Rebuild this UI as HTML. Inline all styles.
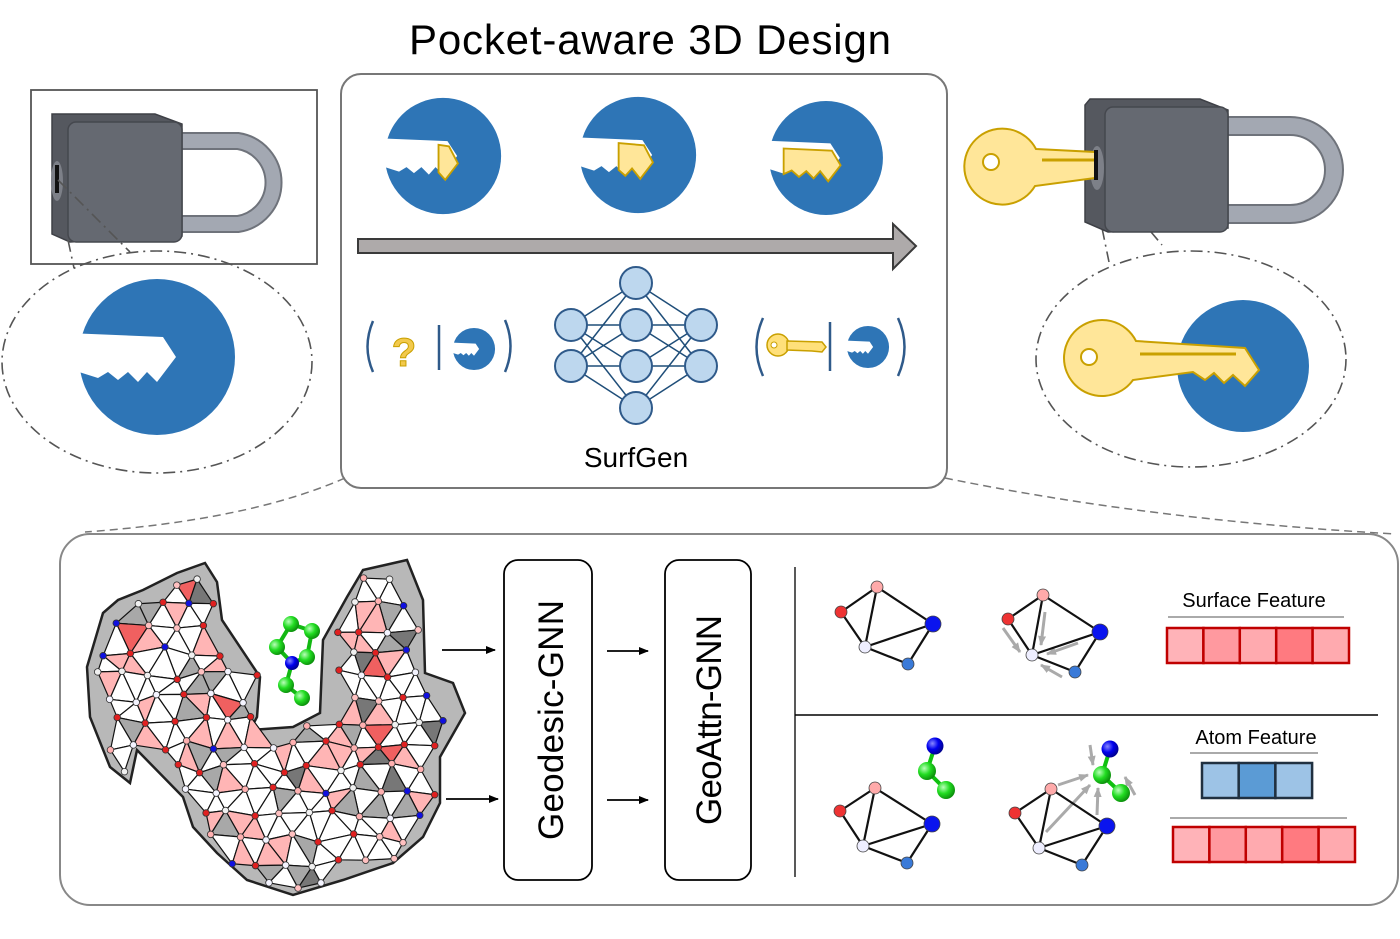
<!DOCTYPE html>
<html><head><meta charset="utf-8"><style>
html,body{margin:0;padding:0;background:#fff;}
svg{display:block;font-family:"Liberation Sans",sans-serif;}
</style></head><body>
<svg id="s" width="1400" height="939" viewBox="0 0 1400 939" xmlns="http://www.w3.org/2000/svg">
<defs>
 <g id="pocket">
  <circle cx="0" cy="0" r="78" fill="#2e75b6"/>
  <polygon points="-90,-24 6,-20 19,0 0,25 -10,15 -19,25 -29,15 -39,23 -49,15 -59,21 -78,15 -90,15" fill="#fff"/>
 </g>
 <radialGradient id="gb" cx="0.35" cy="0.35" r="0.7"><stop offset="0" stop-color="#b9ffb9"/><stop offset="0.5" stop-color="#22dd22"/><stop offset="1" stop-color="#0a8a0a"/></radialGradient>
 <radialGradient id="bb" cx="0.35" cy="0.35" r="0.7"><stop offset="0" stop-color="#8888ff"/><stop offset="0.5" stop-color="#0000ee"/><stop offset="1" stop-color="#000088"/></radialGradient>
 <marker id="ah" markerWidth="10" markerHeight="8" refX="9" refY="4" orient="auto" markerUnits="userSpaceOnUse"><path d="M0,0 L10,4 L0,8 z" fill="#000"/></marker>
 <marker id="ga" markerWidth="10" markerHeight="8" refX="9" refY="4" orient="auto" markerUnits="userSpaceOnUse"><path d="M0,0 L10,4 L0,8 z" fill="#aaa"/></marker>
</defs>

<text x="650" y="54" font-size="42" text-anchor="middle" textLength="482" fill="#000">Pocket-aware 3D Design</text>

<rect x="341" y="74" width="606" height="414" rx="20" fill="#fff" stroke="#777" stroke-width="2"/>

<path d="M345,478 Q250,520 85,532" fill="none" stroke="#777" stroke-width="1.5" stroke-dasharray="8 5"/>
<path d="M945,478 Q1150,520 1395,534" fill="none" stroke="#777" stroke-width="1.5" stroke-dasharray="8 5"/>

<g transform="translate(443,156) scale(0.745)"><use href="#pocket"/>
 <polygon points="-6,-15 8,-13 20,10 3,32 -6,22" fill="#ffe699" stroke="#c9a000" stroke-width="2.5"/></g>
<g transform="translate(638,155) scale(0.745)"><use href="#pocket"/>
 <polygon points="-26,-16 8,-13 20,10 3,32 -8,18 -17,28 -26,20" fill="#ffe699" stroke="#c9a000" stroke-width="2.5"/></g>
<g transform="translate(826,158) scale(0.73)"><use href="#pocket"/>
 <polygon points="-58,-13 8,-10 20,10 3,32 -8,18 -17,28 -27,18 -37,26 -47,17 -58,22" fill="#ffe699" stroke="#c9a000" stroke-width="2.5"/></g>

<polygon points="358,239 893,239 893,224 916,246 893,269 893,253 358,253" fill="#aeaaaa" stroke="#3a3a3a" stroke-width="2"/>

<g stroke="#2f5a8a" stroke-width="2.5" fill="none">
 <path d="M373,321 Q362,347 373,372"/>
 <path d="M505,320 Q516,346 505,372"/>
 <line x1="439" y1="325" x2="439" y2="370"/>
 <path d="M763,318 Q750,347 763,376"/>
 <path d="M898,318 Q911,347 898,376"/>
 <line x1="830" y1="322" x2="830" y2="371"/>
</g>
<text x="404" y="366" font-size="40" font-weight="bold" fill="#f2c94c" stroke="#c9a000" stroke-width="1" text-anchor="middle">?</text>
<g transform="translate(474,349) scale(0.27)"><use href="#pocket"/></g>
<g transform="translate(868,347) scale(0.27)"><use href="#pocket"/></g>
<g transform="translate(778,345)">
 <circle cx="0" cy="0" r="11" fill="#ffe07a" stroke="#c9a000" stroke-width="1.5"/>
 <circle cx="-4" cy="0" r="3" fill="#fff" stroke="#c9a000"/>
 <polygon points="9,-4 44,-3 48,2 44,7 34,6 9,5" fill="#ffe07a" stroke="#c9a000" stroke-width="1.5"/>
</g>

<g stroke="#1f4e79" stroke-width="1.5"><g id="nnlines"></g></g>
<g id="nnnodes" fill="#bdd7ee" stroke="#2f5a8a" stroke-width="2"></g>
<text x="636" y="467" font-size="28" text-anchor="middle" fill="#000">SurfGen</text>

<rect x="31" y="90" width="286" height="174" fill="#fff" stroke="#555" stroke-width="1.8"/>
<path d="M182,141 H238 A42,42 0 0 1 238,224 H182" fill="none" stroke="#6f737b" stroke-width="18"/>
<path d="M182,141 H238 A42,42 0 0 1 238,224 H182" fill="none" stroke="#a3a8b2" stroke-width="14"/>
<path d="M52,114 H155 L182,124 V236 L70,242 L52,234 Z" fill="#55585f" stroke="#3e4046" stroke-width="1.5"/>
<rect x="68" y="122" width="114" height="120" rx="8" fill="#656971" stroke="#45484e" stroke-width="1.5"/>
<ellipse cx="57" cy="181" rx="6" ry="20" fill="#7d8088"/>
<rect x="55" y="165" width="4" height="28" fill="#111"/>
<g stroke="#555" stroke-width="1.6" fill="none" stroke-dasharray="12 5 2 5">
 <path d="M58,180 L130,252"/>
 <path d="M68,240 L74,268"/>
 <ellipse cx="157" cy="362" rx="155" ry="111"/>
 <path d="M1104,176 L1162,245"/>
 <path d="M1102,228 L1109,262"/>
 <ellipse cx="1191" cy="359" rx="155" ry="108"/>
</g>
<use href="#pocket" transform="translate(157,357)"/>

<path d="M1228,126 H1290 A44,44 0 0 1 1290,214 H1228" fill="none" stroke="#6f737b" stroke-width="20"/>
<path d="M1228,126 H1290 A44,44 0 0 1 1290,214 H1228" fill="none" stroke="#a3a8b2" stroke-width="16"/>
<path d="M1090,99 H1200 L1228,110 V228 L1108,232 L1085,222 V105 Z" fill="#55585f" stroke="#3e4046" stroke-width="1.5"/>
<rect x="1105" y="107" width="123" height="125" rx="8" fill="#656971" stroke="#45484e" stroke-width="1.5"/>
<ellipse cx="1097" cy="168" rx="7" ry="22" fill="#7d8088"/>
<path d="M1036,149 L1095,152 L1095,178 L1035,186 A38,38 0 1 1 1036,149 Z" fill="#ffe699" stroke="#c9a000" stroke-width="2"/>
<circle cx="991" cy="162" r="8" fill="#fff" stroke="#c9a000" stroke-width="2"/>
<line x1="1042" y1="160" x2="1094" y2="160" stroke="#c9a000" stroke-width="3"/>
<rect x="1094" y="150" width="4" height="30" fill="#111"/>

<circle cx="1243" cy="366" r="66" fill="#2e75b6"/>
<path d="M1136,341 L1245,348 L1259,370 L1245,386 L1233,375 L1224,383 L1214,373 L1205,380 L1193,372 L1133,380 A38,38 0 1 1 1136,341 Z" fill="#ffe699" stroke="#c9a000" stroke-width="2"/>
<circle cx="1089" cy="357" r="8" fill="#fff" stroke="#c9a000" stroke-width="2"/>
<line x1="1140" y1="354" x2="1236" y2="354" stroke="#c9a000" stroke-width="3"/>

<rect x="60" y="534" width="1338" height="371" rx="30" fill="#fff" stroke="#888" stroke-width="2"/>

<g id="mesh"></g>

<rect x="504" y="560" width="88" height="320" rx="14" fill="#fff" stroke="#000" stroke-width="1.8"/>
<rect x="665" y="560" width="86" height="320" rx="14" fill="#fff" stroke="#000" stroke-width="1.8"/>
<text transform="translate(563,720) rotate(-90)" font-size="35" text-anchor="middle" textLength="240">Geodesic-GNN</text>
<text transform="translate(721,720) rotate(-90)" font-size="35" text-anchor="middle" textLength="210">GeoAttn-GNN</text>
<g stroke="#000" stroke-width="1.8" marker-end="url(#ah)">
 <line x1="442" y1="650" x2="495" y2="650"/>
 <line x1="446" y1="799" x2="498" y2="799"/>
 <line x1="607" y1="651" x2="648" y2="651"/>
 <line x1="607" y1="800" x2="648" y2="800"/>
</g>

<line x1="795" y1="567" x2="795" y2="877" stroke="#222" stroke-width="1.5"/>
<line x1="795" y1="715" x2="1378" y2="715" stroke="#000" stroke-width="1.5"/>

<g id="graphs"></g>

<text x="1254" y="607" font-size="20" text-anchor="middle">Surface Feature</text>
<line x1="1168" y1="617" x2="1344" y2="617" stroke="#aaa" stroke-width="2"/>
<g stroke="#c00000" stroke-width="2.5">
 <rect x="1167" y="628" width="36.4" height="35" fill="#ffb3b8"/>
 <rect x="1203.4" y="628" width="36.4" height="35" fill="#ff999f"/>
 <rect x="1239.8" y="628" width="36.4" height="35" fill="#ffaaaf"/>
 <rect x="1276.2" y="628" width="36.4" height="35" fill="#ff7a80"/>
 <rect x="1312.6" y="628" width="36.4" height="35" fill="#ffaaaf"/>
</g>
<text x="1256" y="744" font-size="20" text-anchor="middle">Atom Feature</text>
<line x1="1190" y1="753" x2="1318" y2="753" stroke="#aaa" stroke-width="2"/>
<g stroke="#203040" stroke-width="2.5">
 <rect x="1202" y="763" width="36.7" height="35" fill="#9dc3e6"/>
 <rect x="1238.7" y="763" width="36.7" height="35" fill="#5b9bd5"/>
 <rect x="1275.4" y="763" width="36.7" height="35" fill="#9dc3e6"/>
</g>
<line x1="1170" y1="818" x2="1347" y2="818" stroke="#aaa" stroke-width="2"/>
<g stroke="#c00000" stroke-width="2.5">
 <rect x="1173" y="827" width="36.4" height="35" fill="#ffb3b8"/>
 <rect x="1209.4" y="827" width="36.4" height="35" fill="#ff999f"/>
 <rect x="1245.8" y="827" width="36.4" height="35" fill="#ffaaaf"/>
 <rect x="1282.2" y="827" width="36.4" height="35" fill="#ff7a80"/>
 <rect x="1318.6" y="827" width="36.4" height="35" fill="#ffaaaf"/>
</g>
</svg>
<script>
(function(){
var NS="http://www.w3.org/2000/svg";
function el(p,t,a){var e=document.createElementNS(NS,t);for(var k in a)e.setAttribute(k,a[k]);p.appendChild(e);return e;}
var L=[[[571,325],[571,366]],[[636,283],[636,325],[636,366],[636,408]],[[701,325],[701,366]]];
var nl=document.getElementById('nnlines'),nn=document.getElementById('nnnodes');
for(var i=0;i<2;i++)L[i].forEach(function(a){L[i+1].forEach(function(b){el(nl,'line',{x1:a[0],y1:a[1],x2:b[0],y2:b[1]});});});
L.forEach(function(l){l.forEach(function(p){el(nn,'circle',{cx:p[0],cy:p[1],r:16});});});
var poly=[[87,667],[103,613],[118,600],[143,590],[177,573],[205,563],[217,582],[222,620],[260,677],[257,717],[250,730],[293,727],[320,713],[323,640],[347,597],[363,570],[407,560],[423,600],[425,673],[453,683],[465,713],[440,757],[440,803],[423,837],[393,863],[343,880],[293,895],[247,880],[217,853],[193,827],[183,797],[137,750],[130,783],[110,767],[90,717]];
function inside(x,y){var c=false;for(var i=0,j=poly.length-1;i<poly.length;j=i++){var a=poly[i],b=poly[j];if(((a[1]>y)!=(b[1]>y))&&(x<(b[0]-a[0])*(y-a[1])/(b[1]-a[1])+a[0]))c=!c;}return c;}
var seed=7;function rnd(){seed=(seed*16807)%2147483647;return seed/2147483647;}
var m=document.getElementById('mesh');
el(m,'polygon',{points:poly.map(function(p){return p.join(',')}).join(' '),fill:'#b8b8b8',stroke:'#222','stroke-width':2.5});
var s=27,dy=s*0.866,P={};
for(var r=0;r<16;r++)for(var c=0;c<17;c++){var x=80+c*s+(r%2?s/2:0)+(rnd()-0.5)*10,y=558+r*dy+(rnd()-0.5)*10;P[r+'_'+c]={x:x,y:y,in:inside(x,y)};}
function g(r,c){var p=P[r+'_'+c];return p&&p.in?p:null;}
var tris=[];
for(var r=0;r<15;r++)for(var c=0;c<17;c++){
 var a=g(r,c),b=g(r,c+1),d,e;
 if(r%2){d=g(r+1,c+1);e=g(r+1,c);}else{d=g(r+1,c);e=g(r+1,c-1);}
 if(a&&b&&d)tris.push([a,b,d]);
 if(a&&d&&e)tris.push([a,d,e]);
}
tris.forEach(function(t){var v=rnd();var f=v<0.62?'#ffffff':v<0.78?'#ffb5b5':v<0.93?'#a8a8a8':v<0.97?'#f06060':'#777';
 el(m,'polygon',{points:t.map(function(p){return p.x+','+p.y}).join(' '),fill:f,stroke:'#111','stroke-width':1.2,'stroke-linejoin':'round'});});
var cols=['#e02020','#ffb0b0','#f4f4ff','#1010e0','#e02020','#ffc0c0','#f0f0f0'];
for(var k in P){var p=P[k];if(p.in){el(m,'circle',{cx:p.x,cy:p.y,r:3.3,fill:cols[Math.floor(rnd()*cols.length)],stroke:'#333','stroke-width':0.8});}}
var lb=[[291,624],[312,631],[277,647],[307,657],[292,663],[286,685],[302,698]];
var bonds=[[0,1],[0,2],[1,3],[2,4],[3,4],[4,5],[5,6]];
bonds.forEach(function(b){el(m,'line',{x1:lb[b[0]][0],y1:lb[b[0]][1],x2:lb[b[1]][0],y2:lb[b[1]][1],stroke:'#12b812','stroke-width':4});});
lb.forEach(function(p,i){el(m,'circle',{cx:p[0],cy:p[1],r:i==4?7:8,fill:i==4?'url(#bb)':'url(#gb)'});});
var G=document.getElementById('graphs');
function graph(n,lig,arrows){
 var E=[[0,1],[0,2],[0,3],[1,2],[2,3],[2,4],[3,4]];
 arrows.forEach(function(a){el(G,'line',{x1:a[0],y1:a[1],x2:a[2],y2:a[3],stroke:'#aaa','stroke-width':3,'marker-end':'url(#ga)'});});
 E.forEach(function(e){el(G,'line',{x1:n[e[0]][0],y1:n[e[0]][1],x2:n[e[1]][0],y2:n[e[1]][1],stroke:'#111','stroke-width':2.2});});
 var cc=['#ffaaaa','#ee3333','#eeeeff','#0a14ee','#3a7ad8'],rr=[6,6,6,8,6];
 n.forEach(function(p,i){el(G,'circle',{cx:p[0],cy:p[1],r:rr[i],fill:cc[i],stroke:'#444','stroke-width':0.8});});
 if(lig){el(G,'line',{x1:lig[0][0],y1:lig[0][1],x2:lig[1][0],y2:lig[1][1],stroke:'#10c010','stroke-width':4});
  el(G,'line',{x1:lig[1][0],y1:lig[1][1],x2:lig[2][0],y2:lig[2][1],stroke:'#10c010','stroke-width':4});
  lig.forEach(function(p,i){el(G,'circle',{cx:p[0],cy:p[1],r:i==0?8.5:9,fill:i==0?'url(#bb)':'url(#gb)'});});}
}
graph([[877,587],[841,612],[865,647],[933,624],[908,664]],null,[]);
graph([[1043,595],[1008,619],[1032,655],[1100,632],[1075,672]],null,[[1003,628,1020,652],[1045,612,1041,645],[1078,643,1047,654],[1062,677,1041,665]]);
graph([[875,788],[840,811],[863,846],[932,824],[907,863]],[[935,746],[927,771],[946,790]],[]);
graph([[1051,789],[1015,813],[1039,848],[1107,826],[1082,865]],[[1110,749],[1102,775],[1121,793]],[[1058,785,1088,775],[1046,832,1090,785],[1097,815,1098,788],[1090,745,1093,765],[1135,795,1125,777]]);
})();
</script>
</body></html>
